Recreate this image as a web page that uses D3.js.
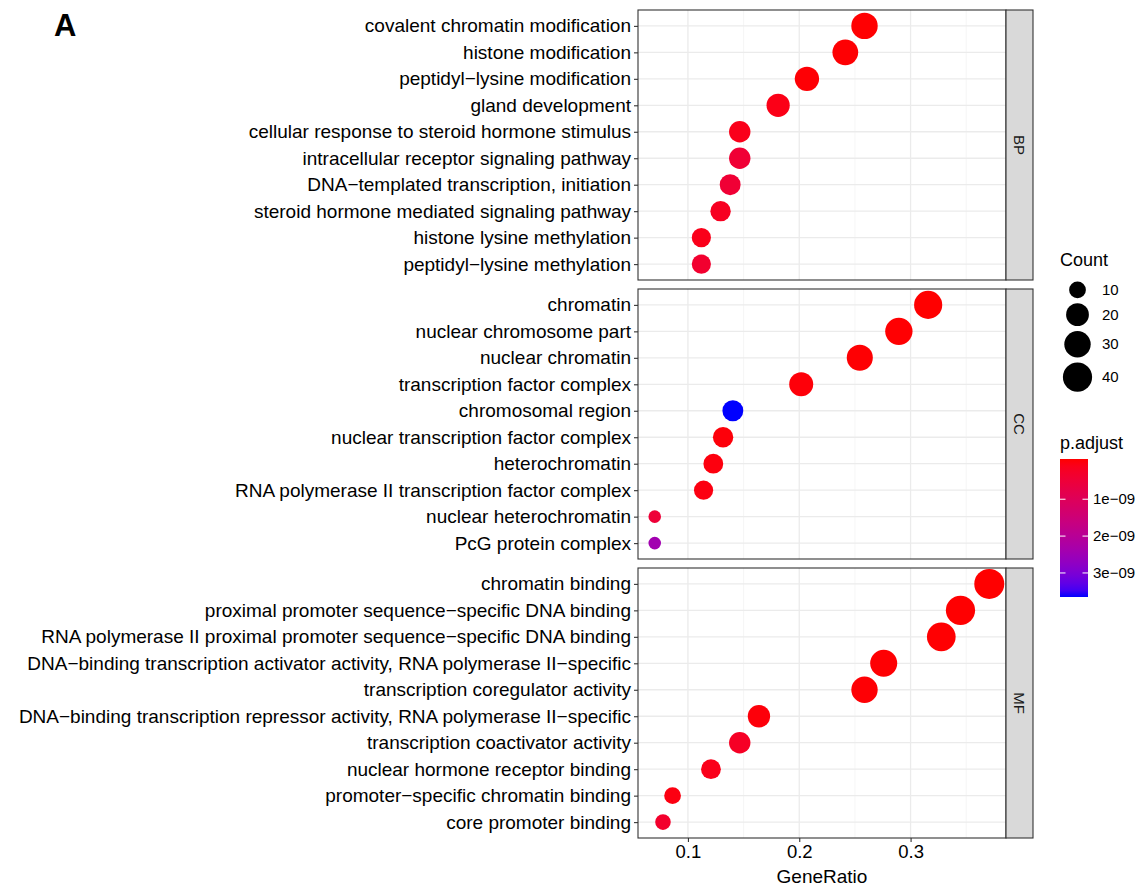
<!DOCTYPE html>
<html>
<head>
<meta charset="utf-8">
<script src="https://cdn.jsdelivr.net/npm/d3@7"></script>
<style>
  body { margin: 0; background: #fff; }
  svg { display: block; font-family: "Liberation Sans", Arial, Helvetica, sans-serif; }
</style>
</head>
<body>
<div id="chart"></div>
<script>
// GO enrichment dot plot, one panel per ontology (top row first)
const bpTerms = [
  "covalent chromatin modification",
  "histone modification",
  "peptidyl\u2212lysine modification",
  "gland development",
  "cellular response to steroid hormone stimulus",
  "intracellular receptor signaling pathway",
  "DNA\u2212templated transcription, initiation",
  "steroid hormone mediated signaling pathway",
  "histone lysine methylation",
  "peptidyl\u2212lysine methylation"
]
const bpCount = [30, 28, 24, 21, 17, 17, 16, 15, 13, 13]
const bpRatio = [30/116, 28/116, 24/116, 21/116, 17/116, 17/116, 16/116, 15/116, 13/116, 13/116]
const bpPadj = [0.01e-9, 0.02e-9, 0.03e-9, 0.15e-9, 0.18e-9, 0.5e-9, 0.5e-9, 0.25e-9, 0.18e-9, 0.42e-9]

const ccTerms = [
  "chromatin",
  "nuclear chromosome part",
  "nuclear chromatin",
  "transcription factor complex",
  "chromosomal region",
  "nuclear transcription factor complex",
  "heterochromatin",
  "RNA polymerase II transcription factor complex",
  "nuclear heterochromatin",
  "PcG protein complex"
]
const ccCount = [36, 33, 29, 23, 16, 15, 14, 13, 8, 8]
const ccRatio = [36/114, 33/114, 29/114, 23/114, 16/114, 15/114, 14/114, 13/114, 8/114, 8/114]
const ccPadj = [0.001e-9, 0.01e-9, 0.02e-9, 0.05e-9, 3.56e-9, 0.06e-9, 0.08e-9, 0.1e-9, 0.55e-9, 2.4e-9]

const mfTerms = [
  "chromatin binding",
  "proximal promoter sequence\u2212specific DNA binding",
  "RNA polymerase II proximal promoter sequence\u2212specific DNA binding",
  "DNA\u2212binding transcription activator activity, RNA polymerase II\u2212specific",
  "transcription coregulator activity",
  "DNA\u2212binding transcription repressor activity, RNA polymerase II\u2212specific",
  "transcription coactivator activity",
  "nuclear hormone receptor binding",
  "promoter\u2212specific chromatin binding",
  "core promoter binding"
]
const mfCount = [43, 40, 38, 32, 30, 19, 17, 14, 10, 9]
const mfRatio = [43/116, 40/116, 38/116, 32/116, 30/116, 19/116, 17/116, 14/116, 10/116, 9/116]
const mfPadj = [0.001e-9, 0.005e-9, 0.01e-9, 0.02e-9, 0.03e-9, 0.06e-9, 0.3e-9, 0.18e-9, 0.1e-9, 0.38e-9]

const xTicks = [0.1, 0.2, 0.3]
const countBreaks = [10, 20, 30, 40]
const padjBreaks = [1e-9, 2e-9, 3e-9]

const panels = [
  {name: "BP", terms: bpTerms, count: bpCount, ratio: bpRatio, padj: bpPadj},
  {name: "CC", terms: ccTerms, count: ccCount, ratio: ccRatio, padj: ccPadj},
  {name: "MF", terms: mfTerms, count: mfCount, ratio: mfRatio, padj: mfPadj}
]

const W = 1141, H = 886
const panelLeft = 638, panelRight = 1006, stripW = 27
const panelTop = 10, panelH = 270, panelGap = 9
const labelFont = 19

const svg = d3.select("#chart").append("svg")
  .attr("width", W).attr("height", H)

// scales
const allRatio = panels.flatMap(p => p.ratio)
const allCount = panels.flatMap(p => p.count)
const allPadj = panels.flatMap(p => p.padj)
const [rMin, rMax] = d3.extent(allRatio)
const pad = (rMax - rMin) * 0.05
const x = d3.scaleLinear().domain([rMin - pad, rMax + pad]).range([panelLeft, panelRight])
const [cMin, cMax] = d3.extent(allCount)
const sizeS = d3.scaleSqrt().domain([0, cMax - cMin]).range([6.3, 15])
const radius = c => sizeS(c - cMin)
const color = d3.scaleLinear().domain(d3.extent(allPadj)).range(["red", "blue"]).interpolate(d3.interpolateLab)

panels.forEach((p, i) => {
  const top = panelTop + i * (panelH + panelGap)
  const y = d3.scalePoint().domain(p.terms).range([top, top + panelH]).padding(0.6)
  const g = svg.append("g")

  // minor grid
  const minor = d3.range(0.05, 0.4, 0.1).map(v => +v.toFixed(2)).filter(v => x(v) > panelLeft && x(v) < panelRight)
  g.selectAll(".minor").data(minor).enter().append("line")
    .attr("x1", d => x(d)).attr("x2", d => x(d))
    .attr("y1", top).attr("y2", top + panelH)
    .attr("stroke", "#F2F2F2").attr("stroke-width", 0.7)
  // major grid
  g.selectAll(".vmaj").data(xTicks).enter().append("line")
    .attr("x1", d => x(d)).attr("x2", d => x(d))
    .attr("y1", top).attr("y2", top + panelH)
    .attr("stroke", "#EBEBEB").attr("stroke-width", 1.3)
  g.selectAll(".hmaj").data(p.terms).enter().append("line")
    .attr("x1", panelLeft).attr("x2", panelRight)
    .attr("y1", d => y(d)).attr("y2", d => y(d))
    .attr("stroke", "#EBEBEB").attr("stroke-width", 1.3)

  // points
  g.selectAll("circle").data(p.terms).enter().append("circle")
    .attr("cx", (d, j) => x(p.ratio[j]))
    .attr("cy", d => y(d))
    .attr("r", (d, j) => radius(p.count[j]))
    .attr("fill", (d, j) => color(p.padj[j]))

  // panel border
  g.append("rect")
    .attr("x", panelLeft).attr("y", top)
    .attr("width", panelRight - panelLeft).attr("height", panelH)
    .attr("fill", "none").attr("stroke", "#333333").attr("stroke-width", 1.1)

  // strip
  g.append("rect")
    .attr("x", panelRight).attr("y", top)
    .attr("width", stripW).attr("height", panelH)
    .attr("fill", "#D9D9D9").attr("stroke", "#333333").attr("stroke-width", 1.1)
  g.append("text")
    .attr("transform", `translate(${panelRight + stripW / 2},${top + panelH / 2}) rotate(90)`)
    .attr("text-anchor", "middle").attr("dy", "0.35em")
    .attr("font-size", 15).attr("fill", "#1A1A1A")
    .text(p.name)

  // y axis
  const yAxis = g.append("g")
    .attr("transform", `translate(${panelLeft},0)`)
    .call(d3.axisLeft(y).tickSize(4).tickPadding(3))
  yAxis.select(".domain").remove()
  yAxis.selectAll(".tick line").attr("stroke", "#333333").attr("stroke-width", 1.1)
  yAxis.selectAll(".tick text").attr("font-size", labelFont).attr("fill", "#000")
    .attr("font-family", "Liberation Sans, Arial, sans-serif")
})

// x axis under the last panel
const bottom = panelTop + 3 * panelH + 2 * panelGap
const xAxis = svg.append("g")
  .attr("transform", `translate(0,${bottom})`)
  .call(d3.axisBottom(x).tickValues(xTicks).tickSize(4).tickPadding(3).tickFormat(d3.format(".1f")))
xAxis.select(".domain").remove()
xAxis.selectAll(".tick line").attr("stroke", "#333333").attr("stroke-width", 1.1)
xAxis.selectAll(".tick text").attr("font-size", 18.5).attr("fill", "#000")
  .attr("font-family", "Liberation Sans, Arial, sans-serif")

svg.append("text")
  .attr("x", (panelLeft + panelRight) / 2).attr("y", 883)
  .attr("text-anchor", "middle").attr("font-size", 19)
  .text("GeneRatio")

// panel tag
svg.append("text")
  .attr("x", 54).attr("y", 36)
  .attr("font-size", 31).attr("font-weight", "bold")
  .text("A")

// size legend
const lg = svg.append("g")
lg.append("text").attr("x", 1060).attr("y", 266).attr("font-size", 18).text("Count")
let ky = 279
countBreaks.forEach(c => {
  const r = radius(c)
  const h = 2 * r + 5
  const cy = ky + h / 2
  lg.append("circle").attr("cx", 1077.5).attr("cy", cy).attr("r", r).attr("fill", "#000")
  lg.append("text").attr("x", 1102).attr("y", cy).attr("dy", "0.35em")
    .attr("font-size", 15).text(c)
  ky += h
})

// colour bar legend
const barX = 1060, barW = 28, barTop = 459, barBot = 597
lg.append("text").attr("x", 1060).attr("y", 449).attr("font-size", 18).text("p.adjust")
const grad = svg.append("defs").append("linearGradient")
  .attr("id", "padjGrad").attr("x1", 0).attr("x2", 0).attr("y1", 0).attr("y2", 1)
const pDom = color.domain()
d3.range(0, 1.0001, 0.05).forEach(t => {
  grad.append("stop").attr("offset", t)
    .attr("stop-color", color(pDom[0] + t * (pDom[1] - pDom[0])))
})
lg.append("rect").attr("x", barX).attr("y", barTop)
  .attr("width", barW).attr("height", barBot - barTop)
  .attr("fill", "url(#padjGrad)")
const barY = d3.scaleLinear().domain(pDom).range([barTop + 3.4, barBot - 3.4])
padjBreaks.forEach(v => {
  const yy = barY(v)
  lg.append("line").attr("x1", barX).attr("x2", barX + 5.5).attr("y1", yy).attr("y2", yy)
    .attr("stroke", "#fff").attr("stroke-width", 1)
  lg.append("line").attr("x1", barX + barW - 5.5).attr("x2", barX + barW).attr("y1", yy).attr("y2", yy)
    .attr("stroke", "#fff").attr("stroke-width", 1)
  lg.append("text").attr("x", 1093).attr("y", yy).attr("dy", "0.35em")
    .attr("font-size", 15).text(d3.format(".0e")(v).replace("e-", "e\u22120"))
})
</script>
</body>
</html>
